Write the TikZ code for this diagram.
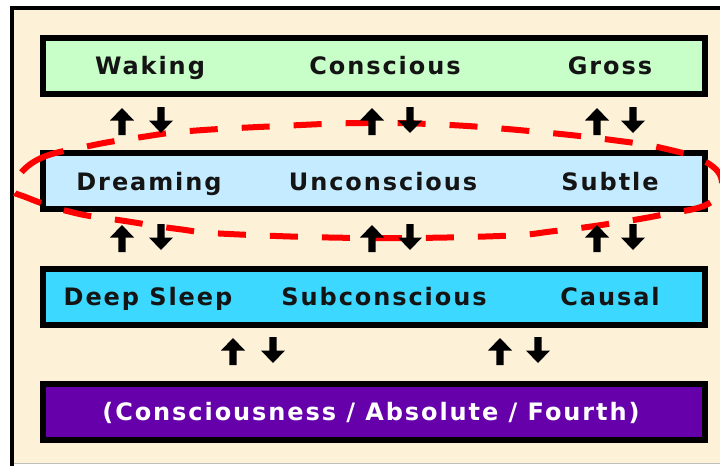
\documentclass[tikz,border=0pt]{standalone}
\usepackage{fontspec}
\setmainfont{DejaVu Sans}[LetterSpace=8]
\definecolor{bgc}{HTML}{FDF1D8}
\definecolor{gfill}{HTML}{C8FFC8}
\definecolor{lbfill}{HTML}{C4EBFF}
\definecolor{cyfill}{HTML}{3DD8FF}
\definecolor{pufill}{HTML}{6600AA}
\definecolor{txt}{HTML}{141414}
\tikzset{
  levelbox/.style={draw=black, line width=6pt, minimum width=662pt, minimum height=56pt, inner sep=0pt},
  lab/.style={font=\fontsize{24}{28}\selectfont\bfseries, text=txt, anchor=base, inner sep=0pt},
  uparr/.pic={\fill[black] (0,0) -- (12,12.5) -- (3.6,12.5) -- (3.6,27) -- (-3.6,27) -- (-3.6,12.5) -- (-12,12.5) -- cycle;},
  downarr/.pic={\fill[black] (0,0) -- (12,-12.5) -- (3.6,-12.5) -- (3.6,-26) -- (-3.6,-26) -- (-3.6,-12.5) -- (-12,-12.5) -- cycle;},
  ring/.style={draw=red, line width=6pt, dash pattern=on 28pt off 24pt}
}
\begin{document}
\begin{tikzpicture}[x=1pt,y=-1pt]
\useasboundingbox (0,0) rectangle (720,466);
\fill[white] (0,0) rectangle (720,466);
\fill[bgc] (12,8) rectangle (720,463);
\draw[black, line width=4pt] (12,466) -- (12,8) -- (720,8);
\draw[black!25, line width=1pt] (14,463.5) -- (720,463.5);

% level boxes
\node[levelbox, fill=gfill] (b1) at (374,66) {};
\node[levelbox, fill=lbfill] (b2) at (374,181) {};
\node[levelbox, fill=cyfill] (b3) at (374,296.5) {};
\node[levelbox, fill=pufill] (b4) at (374,412) {};

% labels
\node[lab] (t11) at (150,74) {Waking};
\node[lab] (t12) at (385,74) {Conscious};
\node[lab] (t13) at (610,74) {Gross};
\node[lab] (t21) at (149,190) {Dreaming};
\node[lab] (t22) at (383,190) {Unconscious};
\node[lab] (t23) at (610,190) {Subtle};
\node[lab] (t31) at (148,305) {Deep Sleep};
\node[lab] (t32) at (384,305) {Subconscious};
\node[lab] (t33) at (610,305) {Causal};
\node[lab, text=white] (t41) at (371,420) {(Consciousness / Absolute / Fourth)};

% red dashed ring around the dreaming level
\draw[ring] plot[smooth cycle, tension=0.7] coordinates {
  (13,187) (37,160) (89,146) (142,137) (190,131) (280,126) (365,123)
  (450,125) (540,132) (612,140) (662,148) (706,162) (722,183)
  (708,204) (661,215) (608,224) (555,231) (500,236) (365,238)
  (229,234) (178,229) (125,221) (75,213) (28,198)};

% arrows between levels
\foreach \ux/\dx in {122/161, 372/410, 597/633}{
  \pic at (\ux,108) {uparr};
  \pic at (\dx,133) {downarr};
  \pic at (\ux,225) {uparr};
  \pic at (\dx,250) {downarr};
}
\foreach \ux/\dx in {233/273, 500/538}{
  \pic at (\ux,338) {uparr};
  \pic at (\dx,363) {downarr};
}
\end{tikzpicture}
\end{document}
